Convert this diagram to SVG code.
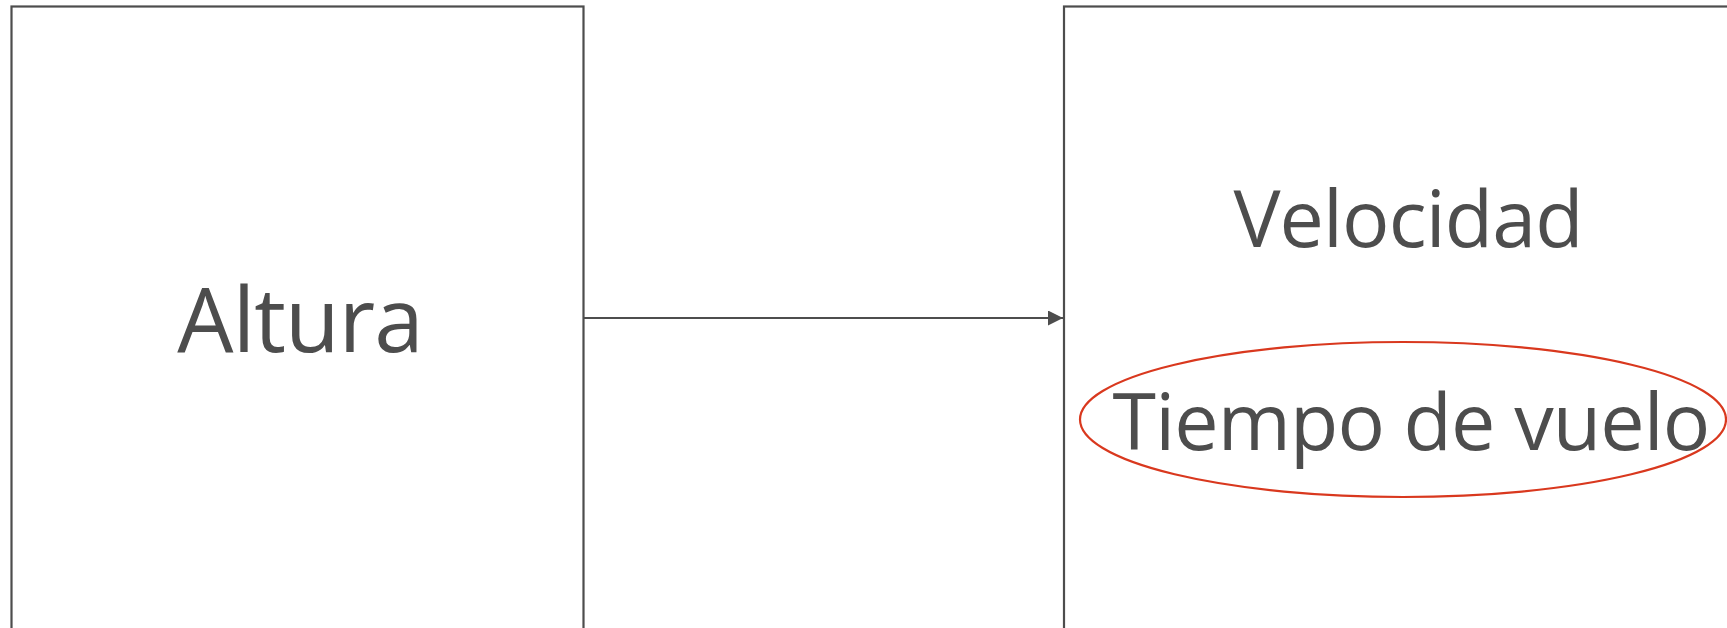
<svg xmlns="http://www.w3.org/2000/svg" width="1727" height="628" viewBox="0 0 1727 628">
  <style>
    .box { fill: #ffffff; stroke: #4d4d4d; stroke-width: 2.2; }
    .label { font-family: "Open Sans", "Liberation Sans", sans-serif; fill: #4d4d4d; text-anchor: middle; letter-spacing: -0.9px; }
    .link { stroke: #4d4d4d; stroke-width: 2.2; fill: none; }
    .focus { fill: none; stroke: #d9381e; stroke-width: 2.2; }
  </style>
  <defs>
    <marker id="arrow" viewBox="0 0 15 15" refX="15" refY="7.5" markerWidth="15" markerHeight="15" markerUnits="userSpaceOnUse" orient="auto">
      <path d="M0,0 L15,7.5 L0,15 Z" fill="#4d4d4d"/>
    </marker>
  </defs>
  <rect width="1727" height="628" fill="#ffffff"/>

  <g id="node-altura">
    <rect class="box" x="11.5" y="6.5" width="572" height="700"/>
    <text class="label" x="300" y="352" font-size="89">Altura</text>
  </g>

  <g id="node-resultados">
    <rect class="box" x="1064" y="6.5" width="700" height="700"/>
    <text class="label" x="1408" y="247" font-size="79">Velocidad</text>
    <ellipse class="focus" cx="1403" cy="419.5" rx="323" ry="77.5"/>
    <text class="label" x="1411" y="450" font-size="79" letter-spacing="-1.3">Tiempo de vuelo</text>
  </g>

  <g id="connectors">
    <line class="link" x1="584" y1="318" x2="1063" y2="318" marker-end="url(#arrow)"/>
  </g>
</svg>
